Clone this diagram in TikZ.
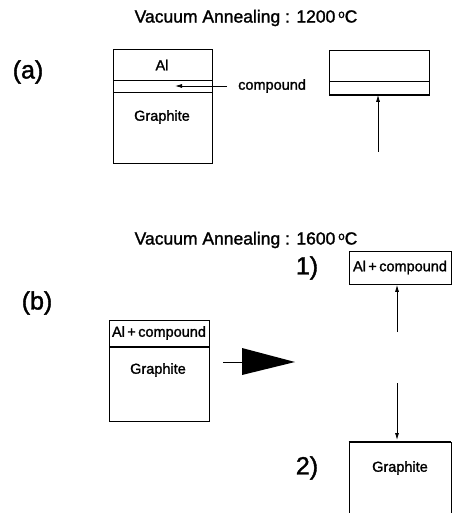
\documentclass[tikz,border=0pt]{standalone}
\usepackage{fontspec}
\setmainfont{Liberation Sans}[FakeBold=1.5]
\usetikzlibrary{arrows.meta,calc}
\begin{document}
\begin{tikzpicture}[x=1pt,y=-1pt,
  box/.style={draw,line width=0.8pt,inner sep=0pt,anchor=north west},
  lbl/.style={font=\fontsize{14.5}{16}\selectfont,inner sep=0pt},
  title/.style={font=\fontsize{17.5}{19}\selectfont,inner sep=0pt},
  tag/.style={font=\fontsize{25}{28}\selectfont,inner sep=0pt},
  thin arrow/.style={line width=0.8pt,-{Latex[length=7pt,width=4pt]}},
  thick line/.style={line width=2.2pt}]
\useasboundingbox (0,0) rectangle (454,513);
% (a)
\node[title] (t1) at (246,18) {Vacuum Annealing : 1200\,\raisebox{0.5ex}{\fontsize{11.5}{12}\selectfont o}C};
\node[tag] (la) at (28,72) {(a)};
\node[box,minimum width=99pt,minimum height=114pt] (boxA) at (113,49) {};
\draw[line width=0.8pt] (113,80) -- (212,80) (113,92) -- (212,92);
\node[lbl] (al) at (162,65) {Al};
\node[lbl] (grA) at (162,117) {Graphite};
\node[lbl,anchor=west] (cmp) at (238,86) {compound};
\coordinate (cmpEnd) at (175,86);
\draw[thin arrow] ($(cmp.west)+(-11,0)$) -- (cmpEnd);
\node[box,minimum width=100pt,minimum height=44pt] (boxA2) at (329,50) {};
\draw[line width=0.8pt] (329,81) -- (429,81);
\draw[thick line] (boxA2.south west) -- (boxA2.south east);
\coordinate (upA) at (378,152);
\draw[thin arrow] (upA) -- (boxA2.south -| upA);
% (b)
\node[title] (t2) at (246,240) {Vacuum Annealing : 1600\,\raisebox{0.5ex}{\fontsize{11.5}{12}\selectfont o}C};
\node[tag] (lb) at (37,303) {(b)};
\node[box,minimum width=100pt,minimum height=101pt] (boxB) at (109,320) {};
\draw[thick line] (109,347) -- (209,347);
\node[lbl] (acB) at (159,333) {Al\,+\,compound};
\node[lbl] (grB) at (158,370) {Graphite};
\coordinate (bigS) at (223,362);
\coordinate (bigM) at (242,362);
\coordinate (bigT) at (295,362);
\draw[line width=1pt] (bigS) -- (bigM);
\fill (242,348) -- (bigT) -- (242,375) -- cycle;
\node[tag] (n1) at (307,268) {1)};
\node[box,minimum width=102pt,minimum height=33pt] (box1) at (349,251) {};
\node[lbl] (ac1) at (400,267.5) {Al\,+\,compound};
\coordinate (mid1) at (397,332);
\coordinate (mid2) at (397,383);
\draw[thin arrow] (mid1) -- (box1.south -| mid1);
\coordinate (g2top) at (397,442);
\draw[thin arrow] (mid2) -- ($(g2top)+(0,-2)$);
\draw[line width=0.8pt] (349,513) -- (349,442) (451,442) -- (451,513);
\draw[thick line] (348.6,442) -- (451.4,442);
\node[lbl] (gr2) at (400,468) {Graphite};
\node[tag] (n2) at (307,468) {2)};
\end{tikzpicture}
\end{document}
